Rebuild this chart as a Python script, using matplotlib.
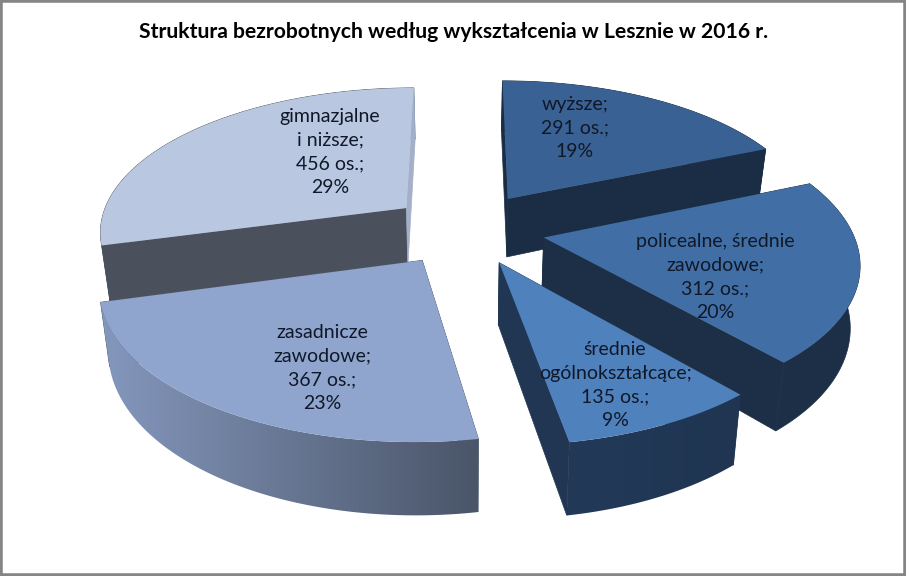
import numpy as np
import matplotlib
matplotlib.use('Agg')
import matplotlib.pyplot as plt
from matplotlib.patches import Polygon
from matplotlib.colors import to_rgb

# dane
categories = ['wyższe', 'policealne, średnie\nzawodowe', 'średnie\nogólnokształcące',
              'zasadnicze\nzawodowe', 'gimnazjalne\ni niższe']
persons = [291, 312, 135, 367, 456]
percents = [19, 20, 9, 23, 29]
title = 'Struktura bezrobotnych według wykształcenia w Lesznie w 2016 r.'

# wygląd wycinków
explode = [0.26, 0.26, 0.25, 0.25, 0.245]
top_colors = ['#3A6193', '#416FA5', '#4F81BD', '#8FA5CD', '#B9C7E0']
first_side = ['#1A2D45', '#1C2F47', '#203652', '#505A6E', '#4B515C']
last_side = ['#1A2D45', '#1C2F47', '#203652', '#505A6E', '#A3B0C8']
arc_left = ['#1A2D45', '#1C2F47', '#223A58', '#8497BD', '#4B515C']
arc_right = ['#1A2D45', '#1C2F47', '#1F3552', '#4A5568', '#4B515C']
label_pos = [(575, 128), (715, 277), (615, 385), (322, 368), (330, 152)]

CX, CY = 465, 229
A, B = 308, 144
K = 0.15
DEPTH = 60
plt.rcParams['font.family'] = ['Lato', 'DejaVu Sans']

fig = plt.figure(figsize=(9.06, 5.76), dpi=100)
ax = fig.add_axes([0, 0, 1, 1])
for s in ax.spines.values():
    s.set_color('#858585')
    s.set_linewidth(4)
    s.set_zorder(100)


def project(u, v, bottom=False):
    s = 1 / (1 + K * v)
    x = A * u * s
    y = CY - B * v * s
    if bottom:
        return CX + x * 0.975, y + DEPTH * s
    return CX + x, y


total = sum(persons)
edges = np.cumsum([0] + persons) / total * 2 * np.pi

z = 1
for i in [0, 4, 1, 2, 3]:
    th = np.linspace(edges[i], edges[i + 1], 120)
    mid = (edges[i] + edges[i + 1]) / 2
    u0, v0 = explode[i] * np.sin(mid), explode[i] * np.cos(mid)
    us, vs = u0 + np.sin(th), v0 + np.cos(th)
    tx, ty = project(us, vs)
    bx, by = project(us, vs, bottom=True)
    ax0, ay0 = project(u0, v0)
    bx0, by0 = project(u0, v0, bottom=True)

    # pierwsza sciana boczna idzie pod luk, druga na luk (oprocz zasadniczych)
    ax.add_patch(Polygon([(ax0, ay0), (tx[0], ty[0]), (bx[0], by[0]), (bx0, by0)],
                         fc=first_side[i], ec=first_side[i], lw=0.5, zorder=z))

    # sciana luku, z gradientem jesli kolory sie roznia
    outline = np.r_[np.c_[tx, ty], np.c_[bx, by][::-1]]
    if arc_left[i] == arc_right[i]:
        ax.add_patch(Polygon(outline, fc=arc_left[i], ec=arc_left[i], lw=0.5, zorder=z + 1))
    else:
        c1, c2 = np.array(to_rgb(arc_left[i])), np.array(to_rgb(arc_right[i]))
        grad = np.linspace(0, 1, 256)[None, :, None]
        grad = c1[None, None, :] + (c2 - c1)[None, None, :] * grad
        wall = Polygon(outline, fc='none', ec='none', transform=ax.transData)
        ax.add_patch(wall)
        lo, hi = min(tx.min(), bx.min()), max(tx.max(), bx.max())
        im = ax.imshow(grad, extent=(lo, hi, by.max() + 1, ty.min() - 1), aspect='auto',
                       interpolation='bilinear', zorder=z + 1)
        im.set_clip_path(wall)

    ax.add_patch(Polygon([(ax0, ay0), (tx[-1], ty[-1]), (bx[-1], by[-1]), (bx0, by0)],
                         fc=last_side[i], ec=last_side[i], lw=0.5, zorder=z if i == 3 else z + 2))

    ax.add_patch(Polygon(np.r_[[[ax0, ay0]], np.c_[tx, ty]], fc=top_colors[i], ec='none', zorder=z + 3))
    z += 4

for i in range(5):
    ax.text(label_pos[i][0], label_pos[i][1],
            f'{categories[i]};\n{persons[i]} os.;\n{percents[i]}%',
            ha='center', va='center', fontsize=14, color='#101828', linespacing=1.49, zorder=50)

ax.text(454, 32, title, ha='center', va='center', fontsize=15.2, fontweight='bold', color='black', zorder=50)

ax.set_xlim(0, 906)
ax.set_ylim(576, 0)
ax.set_xticks([])
ax.set_yticks([])

fig.savefig('out.png', dpi=100)
